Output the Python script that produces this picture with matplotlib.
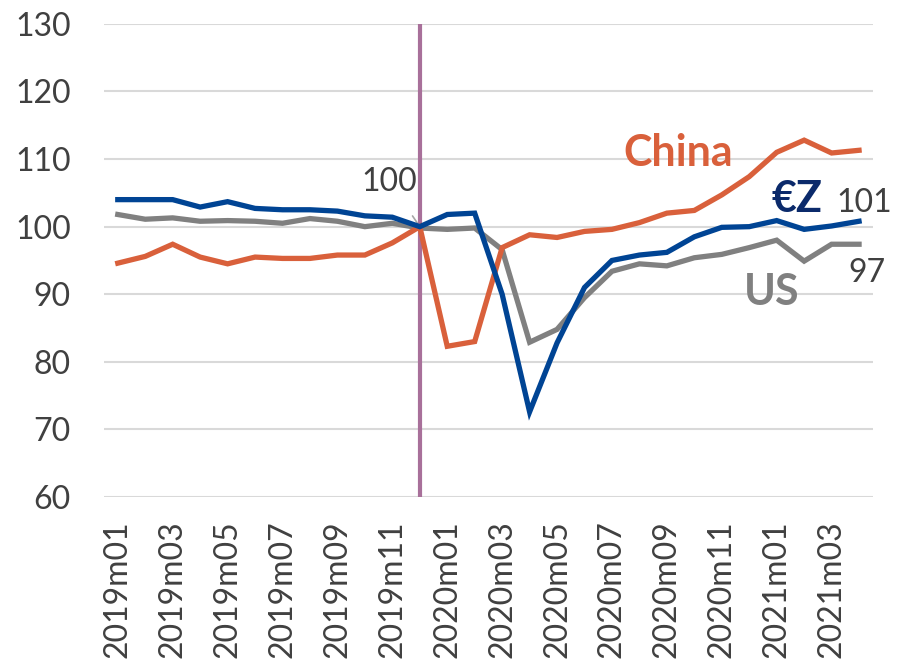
import matplotlib.pyplot as plt

plt.rcParams['font.family'] = ['Lato', 'DejaVu Sans']

months = [f"{y}m{m:02d}" for y in (2019, 2020, 2021) for m in range(1, 13)][:28]

china = [94.6, 95.6, 97.4, 95.5, 94.5, 95.5, 95.3, 95.3, 95.8, 95.8, 97.6, 100.0,
         82.3, 83.0, 96.9, 98.8, 98.4, 99.3, 99.6, 100.6, 102.0, 102.4, 104.7, 107.4,
         111.0, 112.8, 110.9, 111.3]
ez = [104.0, 104.0, 104.0, 102.9, 103.7, 102.7, 102.5, 102.5, 102.3, 101.6, 101.4, 100.0,
      101.8, 102.0, 90.0, 72.6, 82.8, 91.0, 95.0, 95.8, 96.2, 98.5, 99.9, 100.0,
      100.9, 99.6, 100.1, 100.8]
us = [101.8, 101.1, 101.3, 100.8, 100.9, 100.8, 100.5, 101.2, 100.8, 100.0, 100.5, 99.8,
      99.6, 99.8, 96.6, 82.9, 84.8, 89.5, 93.4, 94.5, 94.2, 95.4, 95.9, 96.9,
      98.0, 94.9, 97.4, 97.4]

base_idx = 11  # 2019m12 = 100

c_china = "#D9603B"
c_ez = "#004494"
c_us = "#808080"
c_text = "#404040"

fig = plt.figure(figsize=(8.97, 6.64), dpi=100)
ax = fig.add_axes([0.116, 0.2515, 0.857, 0.7125])

x = list(range(len(months)))
ax.plot(x, us, color=c_us, lw=3.8, solid_joinstyle="miter", zorder=3)
ax.plot(x, china, color=c_china, lw=3.8, solid_joinstyle="miter", zorder=3)
ax.plot(x, ez, color=c_ez, lw=3.8, solid_joinstyle="miter", zorder=4)

ax.axvline(base_idx, color="#A8709A", lw=3, zorder=2)

ax.set_xlim(-0.5, len(months) - 0.5)
ax.set_ylim(60, 130)
ax.set_yticks(range(60, 131, 10))
ax.set_xticks(x[::2])
ax.set_xticklabels(months[::2], rotation=90)
ax.tick_params(axis="both", length=0, labelsize=23, colors=c_text)
ax.tick_params(axis="y", pad=24)
ax.tick_params(axis="x", pad=17)
ax.grid(axis="y", color="#D9D9D9", lw=1.5, zorder=0)
ax.set_axisbelow(True)
for s in ax.spines.values():
    s.set_visible(False)

# labels
ax.text(20.4, 110.9, "China", color=c_china, fontsize=31, fontweight="bold",
        ha="center", va="center")
ax.text(24.75, 104.1, "€Z", color="#0B2A6B", fontsize=31, fontweight="bold",
        ha="center", va="center")
ax.text(23.8, 90.3, "US", color=c_us, fontsize=31, fontweight="bold",
        ha="center", va="center")
ax.text(27.2, 103.5, f"{ez[-1]:.0f}", color=c_text, fontsize=23, ha="center", va="center")
ax.text(27.3, 93.2, f"{us[-1]:.0f}", color=c_text, fontsize=23, ha="center", va="center")
ax.annotate(f"{ez[base_idx]:.0f}", xy=(base_idx, 100), xytext=(9.9, 106.6),
            fontsize=23, color=c_text, ha="center", va="center",
            arrowprops=dict(arrowstyle="-", color="#A6A6A6", lw=1.2,
                            shrinkA=14, shrinkB=0))

fig.savefig("out.png", dpi=100)
